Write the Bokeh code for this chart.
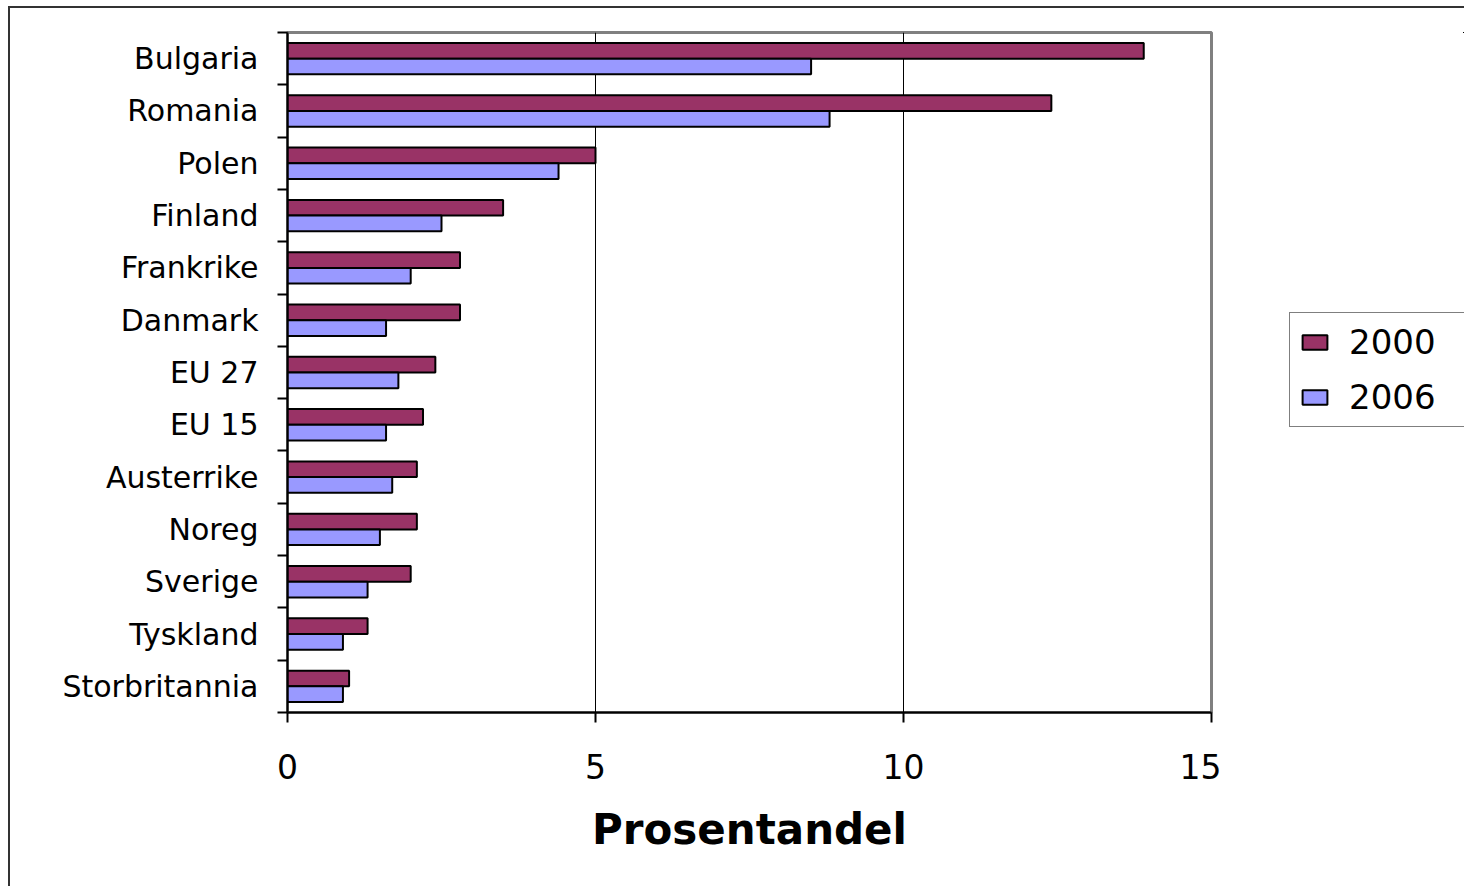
from bokeh.plotting import figure
from bokeh.layouts import row
from bokeh.models import (ColumnDataSource, Range1d, LinearAxis, FixedTicker,
                          CustomJSTickFormatter, Legend, LegendItem)
from bokeh.embed import file_html
from bokeh.resources import INLINE

countries = ["Bulgaria", "Romania", "Polen", "Finland", "Frankrike", "Danmark",
             "EU 27", "EU 15", "Austerrike", "Noreg", "Sverige", "Tyskland",
             "Storbritannia"]
v2000 = [13.9, 12.4, 5.0, 3.5, 2.8, 2.8, 2.4, 2.2, 2.1, 2.1, 2.0, 1.3, 1.0]
v2006 = [8.5, 8.8, 4.4, 2.5, 2.0, 1.6, 1.8, 1.6, 1.7, 1.5, 1.3, 0.9, 0.9]
series = ["2000", "2006"]
colors = ["#993366", "#9999FF"]
x_ticks = [0, 5, 10, 15]
x_title = "Prosentandel"

n = len(countries)
centers = [n - 1 - i + 0.5 for i in range(n)]
src = ColumnDataSource(dict(
    name=countries, v2000=v2000, v2006=v2006,
    y2000=[c + 0.15 for c in centers],
    y2006=[c - 0.15 for c in centers],
))

FONT = "DejaVu Sans"

# ---------------- main chart ----------------
p = figure(width=1211, height=878, output_backend="svg", toolbar_location=None,
           x_range=Range1d(0, 15), y_range=Range1d(0, n),
           y_axis_location=None, min_border_left=277, min_border_right=10,
           min_border_top=24, min_border_bottom=174)

p.hbar(y="y2000", right="v2000", left=0, height=0.3, source=src,
       fill_color=colors[0], line_color="black", line_width=2)
p.hbar(y="y2006", right="v2006", left=0, height=0.3, source=src,
       fill_color=colors[1], line_color="black", line_width=2)

xa = p.xaxis[0]
xa.ticker = FixedTicker(ticks=x_ticks)
xa.axis_label = x_title
xa.axis_label_text_font = FONT
xa.axis_label_text_font_style = "bold"
xa.axis_label_text_font_size = "42px"
xa.axis_label_text_color = "black"
xa.axis_label_standoff = 23
xa.major_label_text_font = FONT
xa.major_label_text_font_size = "33px"
xa.major_label_text_color = "black"
xa.major_label_standoff = 31
xa.major_tick_out = 10
xa.major_tick_in = 0
xa.minor_tick_line_color = None
xa.axis_line_color = "black"
xa.axis_line_width = 2
xa.major_tick_line_color = "black"
xa.major_tick_line_width = 2

# inner y axis: ticks at category boundaries
ya_ticks = LinearAxis(ticker=FixedTicker(ticks=list(range(n + 1))),
                      formatter=CustomJSTickFormatter(code="return ''"))
ya_ticks.major_tick_out = 10
ya_ticks.major_tick_in = 0
ya_ticks.major_label_standoff = 0
ya_ticks.minor_tick_line_color = None
ya_ticks.axis_line_color = "black"
ya_ticks.axis_line_width = 2
ya_ticks.major_tick_line_color = "black"
ya_ticks.major_tick_line_width = 2
p.add_layout(ya_ticks, "left")

# outer y axis: category names at centers
ya_lab = LinearAxis(ticker=FixedTicker(ticks=centers),
                    major_label_overrides={c: nm for c, nm in zip(centers, countries)})
ya_lab.axis_line_color = None
ya_lab.major_tick_line_color = None
ya_lab.minor_tick_line_color = None
ya_lab.major_tick_out = 0
ya_lab.major_tick_in = 0
ya_lab.major_label_standoff = 19
ya_lab.major_label_text_font = FONT
ya_lab.major_label_text_font_size = "30px"
ya_lab.major_label_text_color = "black"
p.add_layout(ya_lab, "left")

p.xgrid.grid_line_color = "black"
p.xgrid.grid_line_width = 1
p.xgrid.ticker = FixedTicker(ticks=x_ticks)
p.ygrid.grid_line_color = None

p.outline_line_color = "#808080"
p.outline_line_width = 3
p.background_fill_color = "white"
p.border_fill_color = "white"

# ---------------- legend panel ----------------
# same series drawn into ranges that show none of them: only the legend is seen
p2 = figure(width=243, height=878, output_backend="svg", toolbar_location=None,
            x_range=Range1d(-200, -199), y_range=Range1d(-200, -199),
            x_axis_location=None, y_axis_location=None,
            min_border_left=0, min_border_right=0, min_border_top=0,
            min_border_bottom=0)
p2.grid.visible = False
p2.outline_line_color = None
lr1 = p2.hbar(y="y2000", right="v2000", left=0, height=0.3, source=src,
              fill_color=colors[0], line_color="black", line_width=2)
lr2 = p2.hbar(y="y2006", right="v2006", left=0, height=0.3, source=src,
              fill_color=colors[1], line_color="black", line_width=2)

legend = Legend(items=[LegendItem(label=series[0], renderers=[lr1]),
                       LegendItem(label=series[1], renderers=[lr2])],
                location=(68, 285))
legend.label_text_font = FONT
legend.label_text_font_size = "34px"
legend.label_text_color = "black"
legend.glyph_width = 31
legend.glyph_height = 18
legend.label_standoff = 19
legend.label_height = 36
legend.label_width = 130
legend.spacing = 15
legend.padding = 9
legend.margin = 0
legend.border_line_color = "black"
legend.border_line_width = 1
legend.background_fill_alpha = 1
p2.add_layout(legend, "center")

layout = row(p, p2, spacing=0)
layout.styles = {"margin-left": "8px", "margin-top": "6px",
                 "border-left": "2px solid #333333",
                 "border-top": "2px solid #333333"}

open("out.html", "w").write(file_html(layout, INLINE))
